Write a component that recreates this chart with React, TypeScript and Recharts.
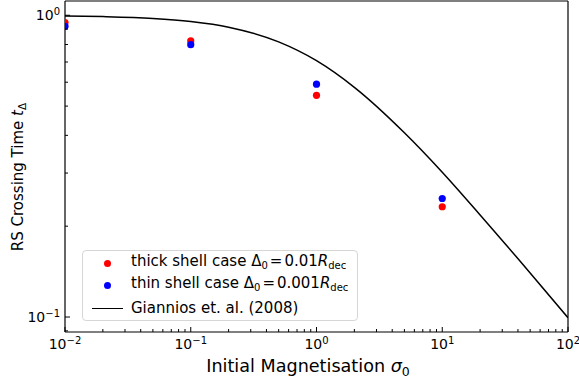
import React from "react";
import {
  ComposedChart,
  XAxis,
  YAxis,
  Scatter,
  Line,
  ReferenceLine,
} from "recharts";

// initial magnetisation sigma_0 of the runs
const sigmaValues = [0.01, 0.1, 1, 10];
// RS crossing time, thick shell (Delta_0 = 0.01 R_dec)
const thickShell = [0.945, 0.822, 0.543, 0.232];
// RS crossing time, thin shell (Delta_0 = 0.001 R_dec)
const thinShell = [0.919, 0.799, 0.591, 0.247];

// Giannios et al. (2008) curve
const gianniosSigma = [0.01, 0.02, 0.05, 0.1, 0.2, 0.5, 1, 2, 5, 10, 20, 50, 100];
const gianniosTime = [0.995, 0.99, 0.976, 0.953, 0.913, 0.816, 0.707, 0.577, 0.408, 0.302, 0.218, 0.14, 0.0995];

const xMajorTicks = [0.01, 0.1, 1, 10, 100];
const xMajorExponents = ["\u22122", "\u22121", "0", "1", "2"];
const xMinorTicks = [
  0.02, 0.03, 0.04, 0.05, 0.06, 0.07, 0.08, 0.09,
  0.2, 0.3, 0.4, 0.5, 0.6, 0.7, 0.8, 0.9,
  2, 3, 4, 5, 6, 7, 8, 9,
  20, 30, 40, 50, 60, 70, 80, 90,
];
const yMajorTicks = [0.1, 1];
const yMajorExponents = ["\u22121", "0"];
const yMinorTicks = [0.09, 0.2, 0.3, 0.4, 0.5, 0.6, 0.7, 0.8, 0.9];

const X_DOMAIN = [0.01, 100];
const Y_DOMAIN = [0.0892, 1.115];

const FONT = "DejaVu Sans, sans-serif";

const thickData = sigmaValues.map((s, i) => ({ x: s, y: thickShell[i] }));
const thinData = sigmaValues.map((s, i) => ({ x: s, y: thinShell[i] }));
const gianniosData = gianniosSigma.map((s, i) => ({ x: s, y: gianniosTime[i] }));

const majorIndex = (v: number, majors: number[]) =>
  majors.findIndex((m) => Math.abs(m - v) / m < 1e-6);

function XTick(props: any) {
  const { x, y, payload } = props;
  const idx = majorIndex(payload.value, xMajorTicks);
  const major = idx >= 0;
  return (
    <g>
      <line x1={x} x2={x} y1={y} y2={y - (major ? 5 : 3)} stroke="#000" strokeWidth={1} />
      {major && (
        <text x={x} y={y + 16.5} textAnchor="middle" fontFamily={FONT} fontSize={14} fill="#000">
          <tspan>10</tspan>
          <tspan dy={-5} fontSize={10}>{xMajorExponents[idx]}</tspan>
        </text>
      )}
    </g>
  );
}

function YTick(props: any) {
  const { x, y, payload } = props;
  const idx = majorIndex(payload.value, yMajorTicks);
  const major = idx >= 0;
  return (
    <g>
      <line x1={x} x2={x + (major ? 5 : 3)} y1={y} y2={y} stroke="#000" strokeWidth={1} />
      {major && (
        <text x={x - 5} y={y + 5} textAnchor="end" fontFamily={FONT} fontSize={14} fill="#000">
          <tspan>10</tspan>
          <tspan dy={-5} fontSize={10}>{yMajorExponents[idx]}</tspan>
        </text>
      )}
    </g>
  );
}

const Dot = (color: string) => (props: any) =>
  <circle cx={props.cx} cy={props.cy} r={3.6} fill={color} />;

function XLabel() {
  return (
    <text x={308} y={372} textAnchor="middle" fontFamily={FONT} fontSize={17.6} fill="#000">
      <tspan>Initial Magnetisation </tspan>
      <tspan fontStyle="italic">σ</tspan>
      <tspan dy={4} fontSize={12.5}>0</tspan>
    </text>
  );
}

function YLabel() {
  const cx = 22.5;
  const cy = 177;
  return (
    <text
      x={cx}
      y={cy}
      transform={`rotate(-90, ${cx}, ${cy})`}
      textAnchor="middle"
      fontFamily={FONT}
      fontSize={15}
      fill="#000"
    >
      <tspan>RS Crossing Time </tspan>
      <tspan fontStyle="italic">t</tspan>
      <tspan dy={3} fontSize={10.5}>Δ</tspan>
    </text>
  );
}

function LegendBox() {
  const row: React.CSSProperties = {
    display: "flex",
    alignItems: "center",
    height: 22.5,
    whiteSpace: "nowrap",
  };
  const mark: React.CSSProperties = {
    width: 48,
    display: "flex",
    justifyContent: "center",
    alignItems: "center",
  };
  const dot = (c: string) => (
    <span style={{ width: 7, height: 7, borderRadius: "50%", background: c, display: "inline-block" }} />
  );
  const sub: React.CSSProperties = { fontSize: 10, verticalAlign: -3 };
  const eq: React.CSSProperties = { margin: "0 2px" };
  return (
    <div
      style={{
        position: "absolute",
        left: 82,
        top: 250,
        fontFamily: FONT,
        fontSize: 15,
        lineHeight: "17px",
        color: "#000",
        border: "1px solid #d6d6d6",
        borderRadius: 4,
        background: "rgba(255,255,255,0.8)",
        width: 276,
        height: 71,
        boxSizing: "border-box",
        paddingTop: 1,
      }}
    >
      <div style={row}>
        <span style={mark}>{dot("#ff0000")}</span>
        <span>
          thick shell case Δ<span style={sub}>0</span>
          <span style={eq}>=</span>0.01<i>R</i>
          <span style={sub}>dec</span>
        </span>
      </div>
      <div style={row}>
        <span style={mark}>{dot("#0000ff")}</span>
        <span>
          thin shell case Δ<span style={sub}>0</span>
          <span style={eq}>=</span>0.001<i>R</i>
          <span style={sub}>dec</span>
        </span>
      </div>
      <div style={row}>
        <span style={mark}>
          <span style={{ width: 31, height: 1.5, background: "#000", display: "inline-block" }} />
        </span>
        <span>Giannios et. al. (2008)</span>
      </div>
    </div>
  );
}

export default function App() {
  return (
    <div style={{ position: "absolute", left: 0, top: 0, width: 579, height: 385, background: "#fff" }}>
      <ComposedChart
        width={579}
        height={385}
        margin={{ top: 1, right: 11, bottom: 0, left: 0 }}
      >
        <XAxis
          dataKey="x"
          type="number"
          scale="log"
          domain={X_DOMAIN}
          allowDataOverflow
          ticks={[...xMajorTicks, ...xMinorTicks]}
          interval={0}
          tickSize={0}
          tickMargin={0}
          tickLine={false}
          tick={<XTick />}
          height={53}
          axisLine={{ stroke: "#000", strokeWidth: 1.2 }}
          label={{ content: <XLabel /> }}
        />
        <YAxis
          dataKey="y"
          type="number"
          scale="log"
          domain={Y_DOMAIN}
          allowDataOverflow
          ticks={[...yMajorTicks, ...yMinorTicks]}
          interval={0}
          tickSize={0}
          tickMargin={0}
          tickLine={false}
          tick={<YTick />}
          width={65}
          axisLine={{ stroke: "#000", strokeWidth: 1.2 }}
          label={{ content: <YLabel /> }}
        />
        <ReferenceLine y={Y_DOMAIN[1]} stroke="#000" strokeWidth={1.2} ifOverflow="visible" />
        <ReferenceLine x={X_DOMAIN[1]} stroke="#000" strokeWidth={1.2} ifOverflow="visible" />
        <Line
          data={gianniosData}
          dataKey="y"
          type="monotone"
          stroke="#000"
          strokeWidth={1.5}
          dot={false}
          isAnimationActive={false}
          name="Giannios et. al. (2008)"
        />
        <Scatter
          data={thickData}
          fill="#ff0000"
          shape={Dot("#ff0000")}
          isAnimationActive={false}
          name="thick shell"
        />
        <Scatter
          data={thinData}
          fill="#0000ff"
          shape={Dot("#0000ff")}
          isAnimationActive={false}
          name="thin shell"
        />
      </ComposedChart>
      <LegendBox />
    </div>
  );
}
